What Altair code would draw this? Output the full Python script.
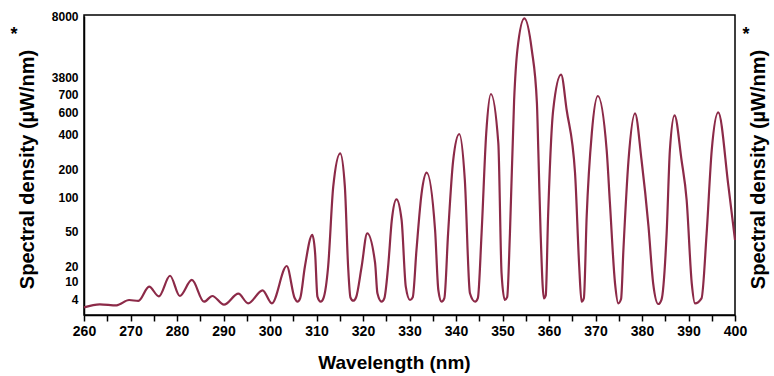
import altair as alt
import pandas as pd

wavelength = [260.0, 263.4, 267.0, 269.7, 271.7, 274.0, 276.1, 278.5, 280.6, 283.2,
              285.8, 287.6, 290.1, 293.2, 295.3, 298.4, 300.4, 303.6, 305.3, 305.9,
              306.5, 307.5, 309.1, 309.7, 310.2, 310.9, 311.5, 312.5, 313.6, 315.1,
              316.1, 316.8, 317.3, 317.9, 318.5, 319.7, 320.9, 322.6, 323.1, 324.0,
              324.6, 325.4, 326.2, 327.2, 328.3, 329.2, 330.1, 330.7, 331.5, 332.6,
              333.7, 335.5, 336.2, 336.9, 337.5, 338.3, 339.4, 340.7, 341.9, 343.0,
              344.1, 344.7, 345.5, 346.5, 347.5, 349.1, 349.8, 350.5, 351.0, 351.6,
              352.5, 353.2, 354.7, 356.3, 357.4, 357.7, 358.2, 358.9, 359.3, 359.8,
              360.9, 362.6, 363.8, 365.6, 366.5, 367.0, 367.5, 368.1, 369.2, 370.5,
              372.4, 373.1, 374.2, 374.9, 375.5, 376.0, 377.1, 378.5, 379.9, 381.4,
              382.4, 383.5, 384.2, 385.3, 386.0, 387.0, 388.5, 389.6, 390.7, 391.4,
              392.8, 393.9, 395.0, 396.4, 398.6, 400.0]
density = [2.44, 3.01, 2.82, 3.81, 3.63, 8.1, 4.9, 13.5, 5.0, 10.7,
           3.49, 5.0, 2.93, 5.77, 3.19, 6.9, 3.19, 20.0, 4.3, 3.49,
           4.3, 19.5, 46.6, 31.1, 4.77, 3.49, 4.3, 19.5, 136.8, 289.7,
           136.8, 19.5, 4.5, 3.68, 4.5, 19.5, 48.0, 22.6, 5.9, 3.49,
           4.3, 19.5, 66.2, 96.6, 66.2, 8.1, 3.81, 4.6, 33.7, 113.2,
           186.8, 51.5, 7.0, 3.49, 4.3, 48.0, 251.4, 400.0, 160.7, 5.9,
           3.49, 4.3, 48.0, 406.4, 700.0, 348.6, 15.1, 3.81, 4.6, 48.0,
           666.7, 5659.0, 7842.0, 5659.0, 650.0, 308.6, 48.0, 4.23, 5.2, 71.0,
           611.0, 3958.0, 611.0, 185.7, 19.5, 3.49, 4.3, 71.0, 406.4, 688.9,
           308.6, 91.2, 9.23, 3.19, 4.0, 33.7, 251.4, 588.2, 251.4, 56.3,
           9.23, 3.06, 3.9, 48.0, 308.6, 570.0, 251.4, 95.6, 9.23, 3.19,
           4.23, 48.0, 308.6, 597.0, 136.8, 42.3]

y_ticks = [4, 10, 20, 50, 100, 200, 400, 600, 700, 3800, 8000]
# broken (piecewise) axis of the original figure
y_domain = [1, 4, 10, 20, 50, 100, 200, 400, 600, 700, 3800, 8000]
y_range = [300, 284, 266, 251, 216, 182, 154, 119, 97, 79, 62, 1]
x_ticks = list(range(260, 401, 5))

df = pd.DataFrame({"wavelength": wavelength, "density": density})
star = pd.DataFrame({"t": ["*"]})

FONT = "Liberation Sans"
TITLE = "Spectral density (µW/nm)"

yscale = alt.Scale(domain=y_domain, range=y_range, zero=False, nice=False)
xscale = alt.Scale(domain=[260, 400], nice=False, zero=False)

xenc = alt.X("wavelength:Q", scale=xscale,
             axis=alt.Axis(values=x_ticks, title="Wavelength (nm)",
                           labelExpr="datum.value % 10 == 0 ? datum.label : ''",
                           tickSize=6, tickColor="black", tickWidth=1.5,
                           domainColor="black", domainWidth=1.5,
                           labelFont=FONT, labelFontSize=14, labelFontWeight="bold",
                           labelColor="black", labelPadding=3, labelFlush=False,
                           labelOverlap=False, grid=False,
                           titleFont=FONT, titleFontSize=19, titleFontWeight="bold",
                           titleColor="black", titleX=310, titleY=47,
                           titleBaseline="middle", titleAlign="center"))

line = alt.Chart(df).mark_line(color="#8c2a48", strokeWidth=2.2,
                               interpolate="monotone").encode(
    x=xenc,
    y=alt.Y("density:Q", scale=yscale,
            axis=alt.Axis(values=y_ticks, orient="left", title=TITLE, format="d",
                          tickSize=0, ticks=False, grid=False,
                          domainColor="black", domainWidth=1.5,
                          labelFont=FONT, labelFontSize=12, labelFontWeight="bold",
                          labelColor="black", labelPadding=6, labelFlush=False,
                          labelOverlap=False,
                          titleFont=FONT, titleFontSize=20, titleFontWeight="bold",
                          titleColor="black", titleAngle=270, titleX=-57, titleY=154,
                          titleAlign="center", titleBaseline="middle")),
)

right = alt.Chart(df).mark_line(opacity=0).encode(
    x=xenc,
    y=alt.Y("density:Q", scale=yscale,
            axis=alt.Axis(orient="right", title=TITLE, labels=False, ticks=False,
                          domain=False, grid=False,
                          titleFont=FONT, titleFontSize=20, titleFontWeight="bold",
                          titleColor="black", titleAngle=270, titleX=23, titleY=154,
                          titleAlign="center", titleBaseline="middle")),
)

star_left = alt.Chart(star).mark_text(font=FONT, fontSize=18, fontWeight="bold",
                                      color="black").encode(
    text="t:N", x=alt.value(-70), y=alt.value(20))
star_right = alt.Chart(star).mark_text(font=FONT, fontSize=18, fontWeight="bold",
                                       color="black").encode(
    text="t:N", x=alt.value(662), y=alt.value(20))

chart = alt.layer(line, right, star_left, star_right).resolve_axis(
    y="independent"
).properties(
    width=651, height=300,
    autosize=alt.AutoSizeParams(type="none"),
    padding={"left": 84, "top": 15, "right": 39, "bottom": 61},
    background="white",
).configure_view(stroke="black", strokeWidth=1.5)

chart.save("out.html", embed_options={"renderer": "svg", "actions": False})
